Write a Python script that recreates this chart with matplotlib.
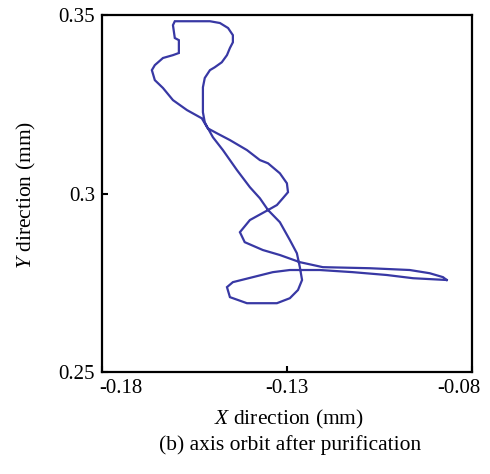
import numpy as np
import matplotlib
matplotlib.use('Agg')
import matplotlib.pyplot as plt
from matplotlib.transforms import ScaledTranslation

plt.rcParams['font.family'] = ['Liberation Serif', 'DejaVu Serif']
plt.rcParams['mathtext.fontset'] = 'custom'
plt.rcParams['mathtext.rm'] = 'Liberation Serif'
plt.rcParams['mathtext.it'] = 'Liberation Serif:italic'

# axis orbit after purification (mm), traced around the loop
orbit_x = [-0.0868, -0.0878, -0.0914, -0.0968, -0.1076, -0.1203, -0.1265, -0.1319,
           -0.1365, -0.1414, -0.1427, -0.1400, -0.1351, -0.1327, -0.1311, -0.1297,
           -0.1300, -0.1319, -0.1351, -0.1373, -0.1408, -0.1454, -0.1489, -0.1514,
           -0.1530, -0.1570, -0.1608, -0.1635, -0.1657, -0.1665, -0.1657, -0.1635,
           -0.1608, -0.1592, -0.1592, -0.1603, -0.1608, -0.1603, -0.1581, -0.1508,
           -0.1481, -0.1459, -0.1446, -0.1446, -0.1454, -0.1462, -0.1476, -0.1495,
           -0.1508, -0.1522, -0.1527, -0.1527, -0.1527, -0.1522, -0.1516, -0.1500,
           -0.1473, -0.1435, -0.1400, -0.1373, -0.1351, -0.1319, -0.1292, -0.1273,
           -0.1265, -0.1259, -0.1270, -0.1292, -0.1327, -0.1408, -0.1454, -0.1462,
           -0.1446, -0.1392, -0.1338, -0.1292, -0.1211, -0.1122, -0.1030, -0.0959,
           -0.0868]
orbit_y = [0.2758, 0.2766, 0.2777, 0.2786, 0.2791, 0.2794, 0.2808, 0.2828,
           0.2842, 0.2864, 0.2892, 0.2926, 0.2954, 0.2968, 0.2987, 0.3004,
           0.3029, 0.3057, 0.3085, 0.3094, 0.3122, 0.3150, 0.3169, 0.3183,
           0.3211, 0.3234, 0.3262, 0.3296, 0.3318, 0.3346, 0.3360, 0.3380,
           0.3388, 0.3394, 0.3430, 0.3436, 0.3472, 0.3483, 0.3483, 0.3483,
           0.3478, 0.3464, 0.3444, 0.3424, 0.3408, 0.3388, 0.3368, 0.3354,
           0.3346, 0.3324, 0.3298, 0.3268, 0.3228, 0.3200, 0.3188, 0.3158,
           0.3122, 0.3066, 0.3018, 0.2987, 0.2954, 0.2920, 0.2870, 0.2833,
           0.2794, 0.2758, 0.2730, 0.2707, 0.2693, 0.2693, 0.2710, 0.2738,
           0.2752, 0.2766, 0.2780, 0.2786, 0.2786, 0.2780, 0.2772, 0.2763,
           0.2758]

x_ticks = [-0.18, -0.13, -0.08]
x_labels = ['-0.18', '-0.13', '-0.08']
y_ticks = [0.25, 0.30, 0.35]
y_labels = ['0.25', '0.3', '0.35']

fig = plt.figure(figsize=(4.9, 4.74), dpi=100)
ax = fig.add_axes([0.208, 0.215, 0.755, 0.753])

ax.plot(orbit_x, orbit_y, color='#3838a4', lw=1.6, solid_joinstyle='miter')

ax.set_xlim(-0.18, -0.08)
ax.set_ylim(0.25, 0.35)
ax.set_xticks(x_ticks)
ax.set_xticklabels(x_labels)
ax.set_yticks(y_ticks)
ax.set_yticklabels(y_labels)
ax.tick_params(direction='in', length=4, width=1.5, labelsize=15, pad=5)
for sp in ax.spines.values():
    sp.set_linewidth(1.6)

# outer tick labels sit shifted inward in the original
xl = ax.get_xticklabels()
xl[0].set_ha('left')
xl[0].set_transform(xl[0].get_transform() + ScaledTranslation(-3/100, 0, fig.dpi_scale_trans))
xl[-1].set_ha('right')
xl[-1].set_transform(xl[-1].get_transform() + ScaledTranslation(9/100, 0, fig.dpi_scale_trans))

fig.text(0.59, 0.114, r'$\mathit{X}$ direction (mm)', ha='center', va='center', fontsize=15.5)
fig.text(0.592, 0.061, '(b) axis orbit after purification', ha='center', va='center',
         fontsize=15.5)
fig.text(0.055, 0.589, r'$\mathit{Y}$ direction (mm)', ha='center', va='center',
         rotation=90, fontsize=15.5)

fig.savefig('out.png', dpi=100, facecolor='white')
